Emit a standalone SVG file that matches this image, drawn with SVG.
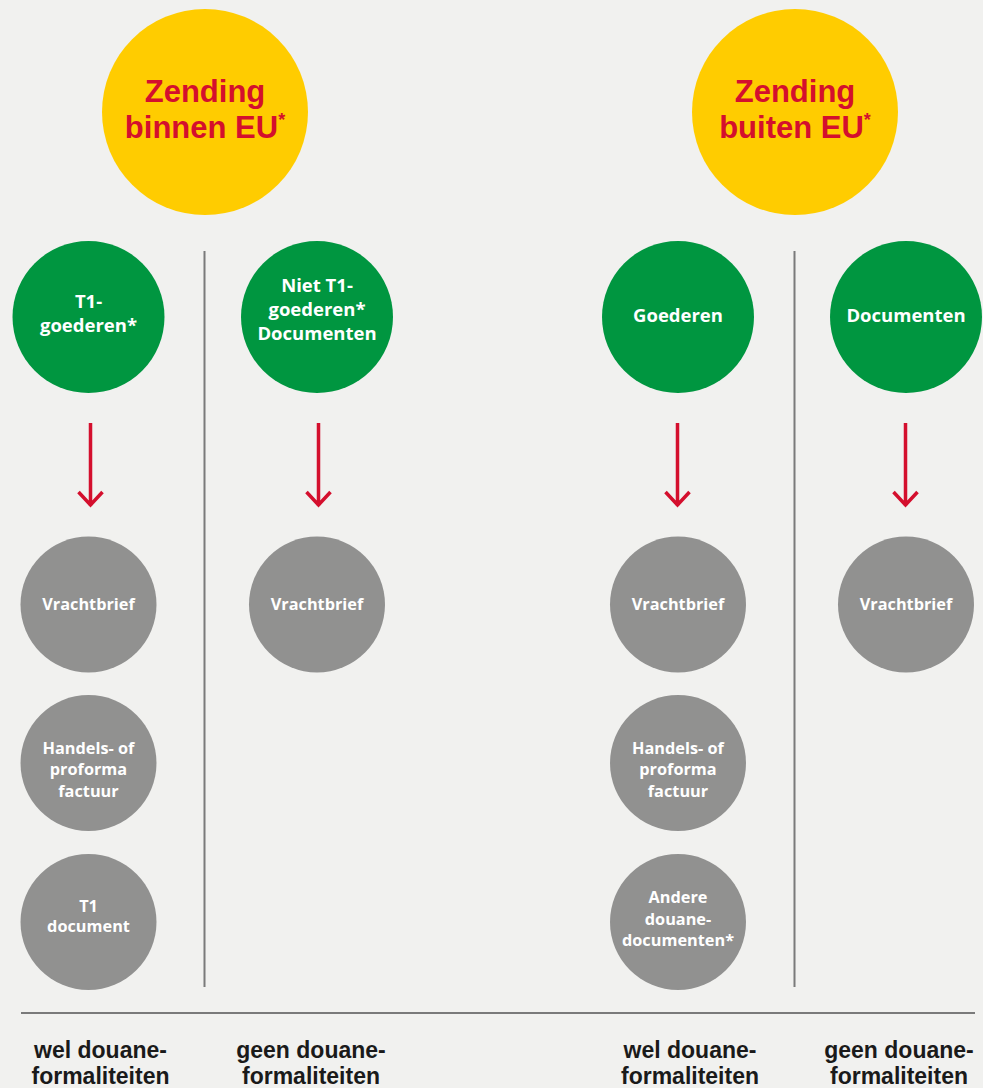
<svg xmlns="http://www.w3.org/2000/svg" width="983" height="1088" viewBox="0 0 983 1088">
<defs>
<style>
.bg{fill:#f1f1ef}
.yel{fill:#ffcc00}
.grn{fill:#009640}
.gry{fill:#919190}
.t{font-family:"Open Sans","Noto Sans","Liberation Sans",sans-serif;font-weight:700;text-anchor:middle}
.ty{font-family:"Liberation Sans",Arial,sans-serif;font-size:31px;fill:#d40f2d}
.tg{font-size:18.5px;fill:#ffffff}
.tc{font-size:16.3px;fill:#ffffff}
.tb{font-family:"Liberation Sans",Arial,sans-serif;font-size:23px;fill:#1a1a1a}
.sup{font-size:18px}
.div{stroke:#7a7a7a;stroke-width:2;fill:none}
.arr{stroke:#d40f2d;stroke-width:3.5;fill:none}
</style>
</defs>
<rect class="bg" x="0" y="0" width="983" height="1088"/>

<g id="dividers">
<line class="div" x1="204.5" y1="251" x2="204.5" y2="987"/>
<line class="div" x1="794.5" y1="251" x2="794.5" y2="987"/>
<line class="div" x1="21" y1="1013" x2="975" y2="1013"/>
</g>

<g id="connectors">
<path class="arr" d="M90.5 423V506M78.5 492L90.5 505L102.5 492"/>
<path class="arr" d="M318.5 423V506M306.5 492L318.5 505L330.5 492"/>
<path class="arr" d="M677.5 423V506M665.5 492L677.5 505L689.5 492"/>
<path class="arr" d="M905.5 423V506M893.5 492L905.5 505L917.5 492"/>
</g>

<g id="zending-binnen">
<circle class="yel" cx="205" cy="112" r="103"/>
<text class="t ty" x="205" y="102">Zending</text>
<text class="t ty" x="205" y="138">binnen EU<tspan class="sup" dy="-12">*</tspan></text>
</g>
<g id="zending-buiten">
<circle class="yel" cx="795" cy="112" r="103"/>
<text class="t ty" x="795" y="102">Zending</text>
<text class="t ty" x="795" y="138">buiten EU<tspan class="sup" dy="-12">*</tspan></text>
</g>

<g id="t1-goederen">
<circle class="grn" cx="88.5" cy="317" r="76"/>
<text class="t tg" x="88.5" y="308">T1-</text>
<text class="t tg" x="88.5" y="332">goederen*</text>
</g>
<g id="niet-t1">
<circle class="grn" cx="317" cy="317" r="76"/>
<text class="t tg" x="317" y="292">Niet T1-</text>
<text class="t tg" x="317" y="316">goederen*</text>
<text class="t tg" x="317" y="340">Documenten</text>
</g>
<g id="goederen">
<circle class="grn" cx="678" cy="317" r="76"/>
<text class="t tg" x="678" y="322">Goederen</text>
</g>
<g id="documenten">
<circle class="grn" cx="906" cy="317" r="76"/>
<text class="t tg" x="906" y="322">Documenten</text>
</g>

<g id="vrachtbrief-1">
<circle class="gry" cx="88.5" cy="604.5" r="68"/>
<text class="t tc" x="88.5" y="610">Vrachtbrief</text>
</g>
<g id="vrachtbrief-2">
<circle class="gry" cx="317" cy="604.5" r="68"/>
<text class="t tc" x="317" y="610">Vrachtbrief</text>
</g>
<g id="vrachtbrief-3">
<circle class="gry" cx="678" cy="604.5" r="68"/>
<text class="t tc" x="678" y="610">Vrachtbrief</text>
</g>
<g id="vrachtbrief-4">
<circle class="gry" cx="906" cy="604.5" r="68"/>
<text class="t tc" x="906" y="610">Vrachtbrief</text>
</g>

<g id="handels-1">
<circle class="gry" cx="88.5" cy="763" r="68"/>
<text class="t tc" x="88.5" y="754">Handels- of</text>
<text class="t tc" x="88.5" y="775">proforma</text>
<text class="t tc" x="88.5" y="796.5">factuur</text>
</g>
<g id="handels-2">
<circle class="gry" cx="678" cy="763" r="68"/>
<text class="t tc" x="678" y="754">Handels- of</text>
<text class="t tc" x="678" y="775">proforma</text>
<text class="t tc" x="678" y="796.5">factuur</text>
</g>

<g id="t1-document">
<circle class="gry" cx="88.5" cy="922" r="68"/>
<text class="t tc" x="88.5" y="911.5">T1</text>
<text class="t tc" x="88.5" y="931.5">document</text>
</g>
<g id="andere">
<circle class="gry" cx="678" cy="922" r="68"/>
<text class="t tc" x="678" y="903">Andere</text>
<text class="t tc" x="678" y="925">douane-</text>
<text class="t tc" x="678" y="946">documenten*</text>
</g>

<g id="labels">
<text class="t tb" x="100.5" y="1058">wel douane-</text>
<text class="t tb" x="100.5" y="1084">formaliteiten</text>
<text class="t tb" x="311" y="1058">geen douane-</text>
<text class="t tb" x="311" y="1084">formaliteiten</text>
<text class="t tb" x="690" y="1058">wel douane-</text>
<text class="t tb" x="690" y="1084">formaliteiten</text>
<text class="t tb" x="899" y="1058">geen douane-</text>
<text class="t tb" x="899" y="1084">formaliteiten</text>
</g>
</svg>
